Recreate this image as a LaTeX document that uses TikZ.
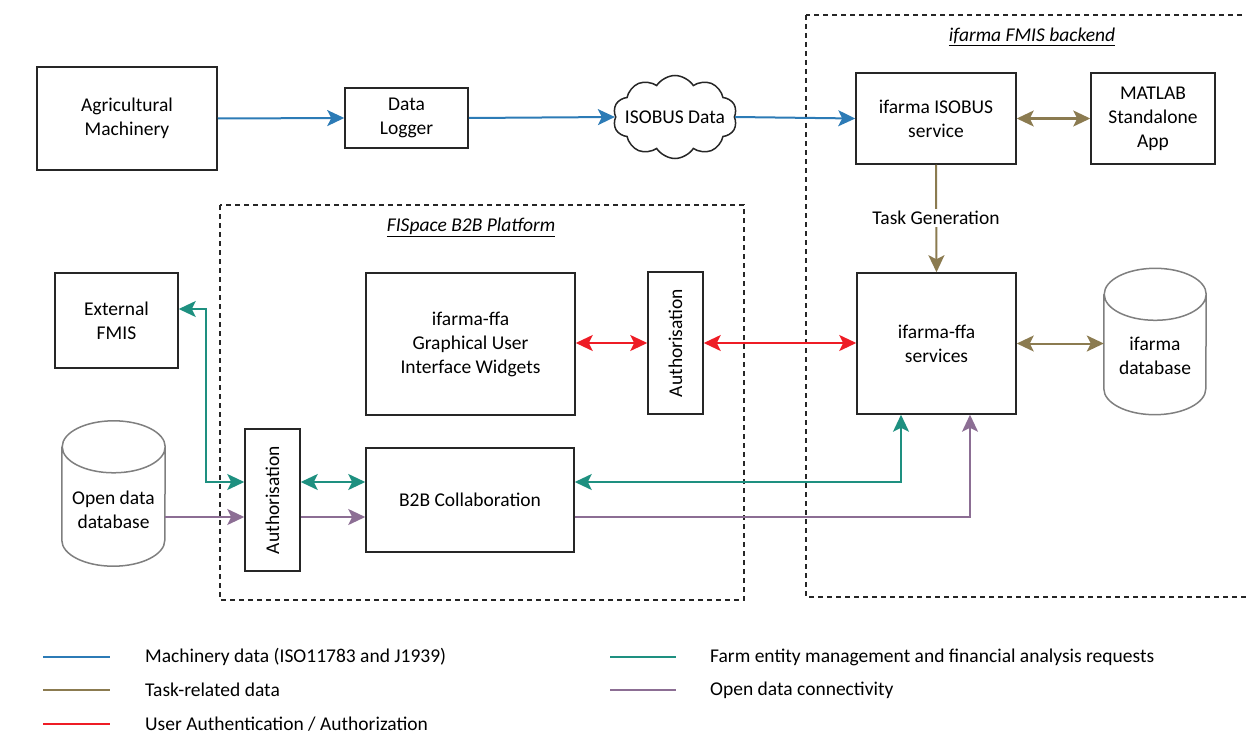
\documentclass[tikz,border=0pt]{standalone}
\usepackage{fontspec}
\setmainfont{Carlito}
\usetikzlibrary{arrows.meta,shapes.symbols,shapes.geometric}
\definecolor{cblue}{HTML}{2C7BB6}
\definecolor{cbrown}{HTML}{8B7B50}
\definecolor{cred}{HTML}{EE1C25}
\definecolor{cteal}{HTML}{1E9080}
\definecolor{cpurple}{HTML}{8C6E94}
\definecolor{cgray}{HTML}{7F7F7F}
\newcommand\dfont{\fontsize{19.5}{24}\selectfont}
\tikzset{
  box/.style={draw=black!85,line width=1.5pt,align=center,font=\dfont,inner sep=2pt},
  cylbox/.style={inner sep=0pt},
  cylline/.style={draw=cgray,line width=1.5pt},
  grp/.style={draw=black!85,line width=1.2pt,dash pattern=on 5pt off 4pt},
  con/.style={line width=2pt,>={Stealth[length=17pt,width=16pt,inset=4pt]}},
  lgtext/.style={anchor=west,inner sep=0pt,font=\dfont},
  lgline/.style={line width=2.5pt},
  vtext/.style={rotate=90,font=\dfont},
  plain/.style={align=center,font=\dfont}
}
\begin{document}
\begin{tikzpicture}[x=1pt,y=-1pt]
\useasboundingbox (0,0) rectangle (1246,733);
% groups
\draw[grp] (220,205) rectangle (744,600);
\draw[grp] (806,15) rectangle (1252,597);
\node[font=\fontsize{19.5}{22}\selectfont\itshape] (tfis) at (471,227) {\underline{FISpace B2B Platform}};
\node[font=\fontsize{19.5}{22}\selectfont\itshape] (tifb) at (1032,37) {\underline{ifarma FMIS backend}};
% nodes
\node[box,minimum width=180pt,minimum height=103pt] (am) at (127,118.5) {Agricultural\\Machinery};
\node[box,minimum width=123pt,minimum height=60pt] (dl) at (406.5,118) {Data\\Logger};
\node[cloud,cloud puffs=10,cloud puff arc=115,aspect=1.5,draw=black!85,line width=1.5pt,minimum width=124pt,minimum height=83pt,inner sep=0pt,label={[font=\dfont]center:ISOBUS Data}] (cld) at (675,117) {};
\node[box,minimum width=160pt,minimum height=91pt] (isb) at (936,118.5) {ifarma ISOBUS\\service};
\node[box,minimum width=124pt,minimum height=91pt] (mat) at (1153,118.5) {MATLAB\\Standalone\\App};
\node[box,minimum width=159pt,minimum height=141pt] (ffa) at (936.5,343.5) {ifarma-ffa\\services};
% ifarma database cylinder
\node[cylbox,minimum width=102pt,minimum height=146pt] (idb) at (1155,341.5) {};
\draw[cylline] ([yshift=-26pt]idb.north west) -- ([yshift=26pt]idb.south west)
  arc[start angle=180,end angle=360,x radius=51pt,y radius=26pt]
  -- ([yshift=-26pt]idb.north east)
  arc[start angle=0,end angle=360,x radius=51pt,y radius=26pt];
\node[plain] (idbt) at (1155,356) {ifarma\\database};
\node[box,minimum width=123pt,minimum height=95pt] (ext) at (116.5,320.5) {External\\FMIS};
% open data cylinder
\node[cylbox,minimum width=103pt,minimum height=145pt] (odb) at (113.5,493.5) {};
\draw[cylline] ([yshift=-26pt]odb.north west) -- ([yshift=26pt]odb.south west)
  arc[start angle=180,end angle=360,x radius=51.5pt,y radius=26pt]
  -- ([yshift=-26pt]odb.north east)
  arc[start angle=0,end angle=360,x radius=51.5pt,y radius=26pt];
\node[plain] (odbt) at (113.5,510) {Open data\\database};
\node[box,minimum width=209pt,minimum height=142pt] (gui) at (470.5,344) {ifarma-ffa\\Graphical User\\Interface Widgets};
\node[box,minimum width=55pt,minimum height=142pt] (au1) at (675.5,343) {};
\node[vtext] (au1t) at (au1.center) {Authorisation};
\node[box,minimum width=55pt,minimum height=142pt] (au2) at (272.5,500) {};
\node[vtext] (au2t) at (au2.center) {Authorisation};
\node[box,minimum width=208pt,minimum height=104pt] (b2b) at (470,500) {B2B Collaboration};
% blue
\draw[con,cblue,->] (am.east) -- (dl.west);
\draw[con,cblue,->] (dl.east) -- (cld.west);
\draw[con,cblue,->] (cld.east) -- (isb.west);
% brown
\draw[con,cbrown,<->] (isb.east) -- (mat.west);
\draw[con,cbrown,<->] (ffa.east) -- (ffa.east -| idb.west);
\draw[con,cbrown,->] (isb.south) -- (ffa.north);
\node[fill=white,font=\dfont,inner sep=2pt] (tg) at (936,218) {Task Generation};
% red
\draw[con,cred,<->] (gui.east |- au1.west) -- (au1.west);
\draw[con,cred,<->] (au1.east) -- (au1.east -| ffa.west);
% teal
\draw[con,cteal,<->] ([yshift=18pt]au2.west) -| ([xshift=27pt,yshift=11.5pt]ext.east) -- ([yshift=11.5pt]ext.east);
\draw[con,cteal,<->] ([yshift=18pt]au2.east) -- ([yshift=18pt]au2.east -| b2b.west);
\draw[con,cteal,<->] ([yshift=18pt]b2b.east) -| ([xshift=-35.5pt]ffa.south);
% purple
\coordinate (pa) at ([yshift=-17pt]au2.west);
\draw[con,cpurple,->] (odb.east |- pa) -- (pa);
\draw[con,cpurple,->] ([yshift=-17pt]au2.east) -- ([yshift=-17pt]au2.east -| b2b.west);
\draw[con,cpurple,->] ([yshift=-17pt]b2b.east) -| ([xshift=33.5pt]ffa.south);
% legend
\node[lgtext] (l1) at (145,657) {Machinery data (ISO11783 and J1939)};
\node[lgtext] (l2) at (145,690) {Task-related data};
\node[lgtext] (l3) at (145,724) {User Authentication / Authorization};
\node[lgtext] (l4) at (710,657) {Farm entity management and financial analysis requests};
\node[lgtext] (l5) at (710,690) {Open data connectivity};
\draw[lgline,cblue] ([xshift=-102pt]l1.west) -- ([xshift=-35pt]l1.west);
\draw[lgline,cbrown] ([xshift=-102pt]l2.west) -- ([xshift=-35pt]l2.west);
\draw[lgline,cred] ([xshift=-102pt]l3.west) -- ([xshift=-35pt]l3.west);
\draw[lgline,cteal] ([xshift=-100pt]l4.west) -- ([xshift=-34pt]l4.west);
\draw[lgline,cpurple] ([xshift=-100pt]l5.west) -- ([xshift=-34pt]l5.west);
\end{tikzpicture}
\end{document}
